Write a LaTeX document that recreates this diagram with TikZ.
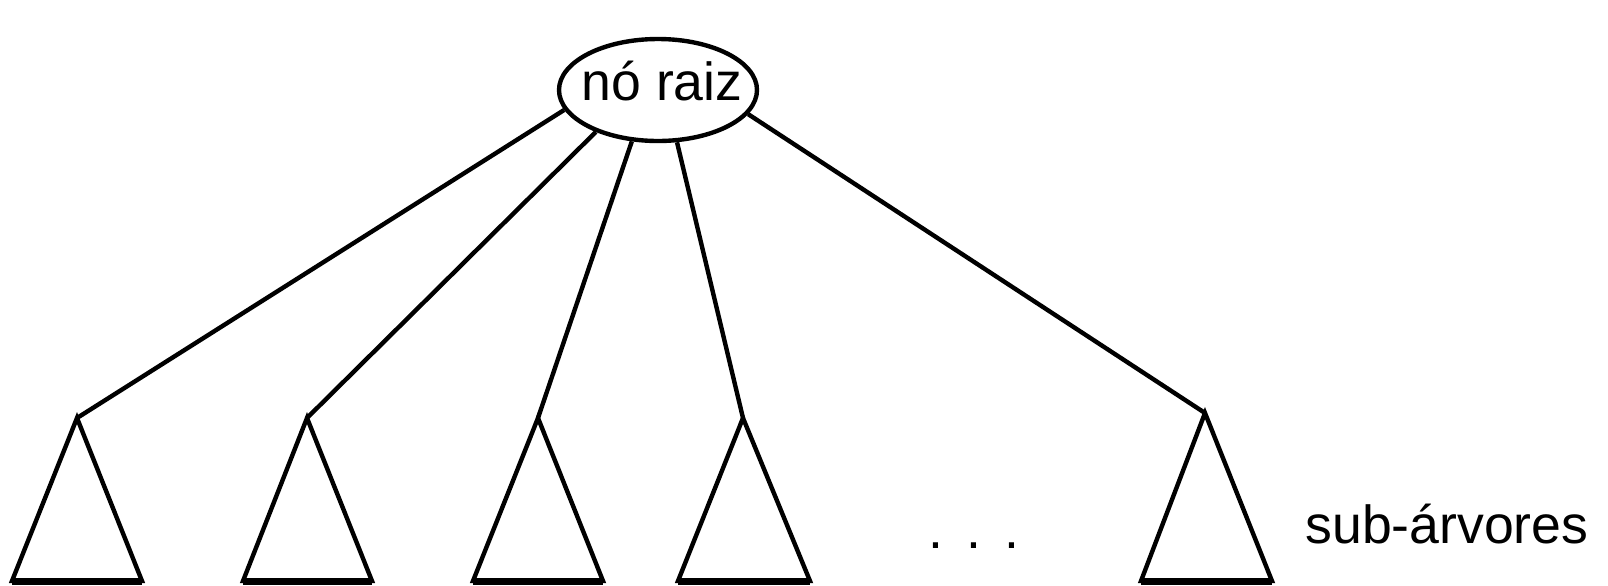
\documentclass[tikz,border=0pt]{standalone}
\usepackage{fontspec}
\setmainfont{Liberation Sans}
\usetikzlibrary{shapes.geometric}
\tikzset{
  px/.style={x=0.5pt,y=-0.5pt},
  rootnode/.style={draw,ellipse,line width=2.2pt,minimum width=99pt,minimum height=51pt,inner sep=0pt},
  edge/.style={line width=2.2pt},
  subtree/.style={line width=2.2pt,line join=miter},
  basebar/.style={line width=3.5pt},
  lbl/.style={inner sep=0pt,font=\fontsize{26.8pt}{30pt}\selectfont}
}
\begin{document}
\begin{tikzpicture}[px]
\useasboundingbox (0,0) rectangle (1608,585);
\node[rootnode] (root) at (658,90) {};
\node[lbl,anchor=base] (rootlabel) at (662,100) {nó raiz};
% apexes and bases
\coordinate (a1) at (77,418);   \coordinate (l1) at (12,581);   \coordinate (r1) at (142,581);
\coordinate (a2) at (307,418);  \coordinate (l2) at (243,581);  \coordinate (r2) at (372,581);
\coordinate (a3) at (538,418);  \coordinate (l3) at (473,581);  \coordinate (r3) at (603,581);
\coordinate (a4) at (743,418);  \coordinate (l4) at (678,581);  \coordinate (r4) at (810,581);
\coordinate (a5) at (1205,413); \coordinate (l5) at (1141,581); \coordinate (r5) at (1272,581);
\foreach \i in {1,...,5}{
  \draw[subtree] (l\i) -- (a\i) -- (r\i) -- cycle;
  \draw[basebar] (l\i) -- (r\i);
}
\draw[edge] (root.192.5) -- (a1);
\draw[edge] (root.214.5) -- (a2);
\draw[edge] (root.243.9) -- (a3);
\draw[edge] (root.290.7) -- (a4);
\draw[edge] (root.345.5) -- (a5);
\node[lbl,anchor=base] (dots) at (974,548) {.\hspace{11.6pt}.\hspace{11.6pt}.};
\node[lbl,anchor=base west] (sublabel) at (1305,543) {sub-árvores};
\end{tikzpicture}
\end{document}
